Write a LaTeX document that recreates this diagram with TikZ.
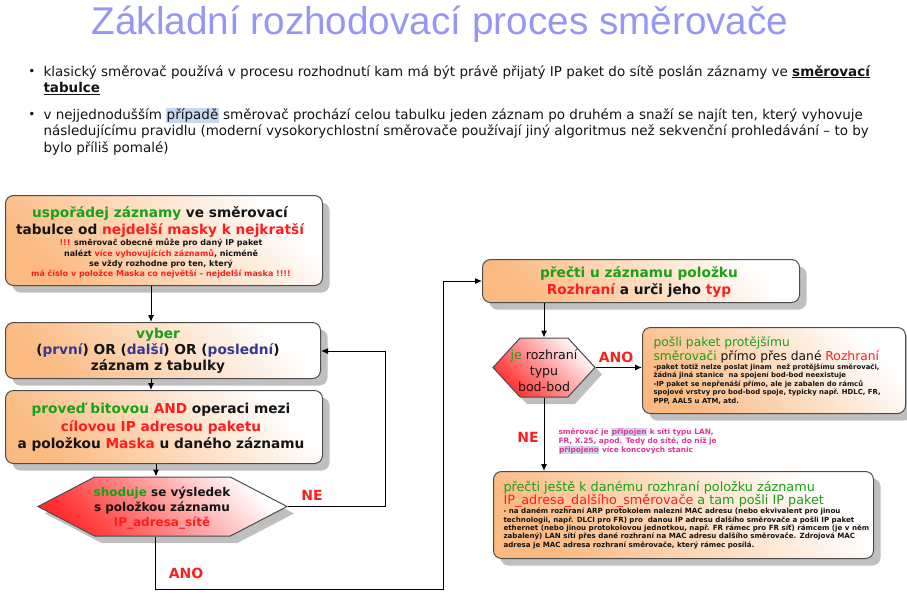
\documentclass[tikz,border=0pt]{standalone}
\usepackage{fontspec}
\setmainfont{DejaVu Sans}
\newfontfamily\arialf{Liberation Sans}
\usetikzlibrary{arrows.meta,shapes.symbols,shadows}
\definecolor{zgreen}{RGB}{25,160,25}
\definecolor{zred}{RGB}{255,30,30}
\definecolor{zblue}{RGB}{55,55,150}
\definecolor{ztitle}{RGB}{150,150,245}
\definecolor{zpink}{RGB}{230,50,150}
\definecolor{zpeach}{RGB}{251,186,130}
\definecolor{zhexred}{RGB}{255,45,45}
\definecolor{zhl}{RGB}{200,215,242}
\definecolor{zink}{RGB}{20,20,20}
\newcommand\gr[1]{\textcolor{zgreen}{#1}}
\newcommand\rd[1]{\textcolor{zred}{#1}}
\newcommand\bl[1]{\textcolor{zblue}{#1}}
\newcommand\hlb[1]{{\setlength{\fboxsep}{0.6pt}\colorbox{zhl}{#1}}}

\begin{document}
\begin{tikzpicture}[x=1pt, y=-1pt, >={Latex[length=7pt,width=6pt]}, line width=1pt,
  every node/.style={text=zink},
  boxshadow/.style={drop shadow={shadow xshift=7pt, shadow yshift=-7pt, fill=black!25, opacity=1}},
  flowbox/.style={draw=black!70, rounded corners=8pt, left color=zpeach, right color=white, shading angle=135, boxshadow, anchor=north west, inner sep=0pt},
  hexbox/.style={shape=signal, signal to=west and east, draw=black!70, left color=zhexred, right color=white, shading angle=135, boxshadow, inner sep=0pt},
  bigbold/.style={font=\bfseries\fontsize{13.7}{17}\selectfont, align=center, inner sep=0pt},
  smallbold/.style={font=\bfseries\fontsize{8}{10.3}\selectfont, align=center, inner sep=0pt},
  plainbig/.style={font=\fontsize{12.3}{14}\selectfont, align=left, anchor=west, inner sep=0pt},
  tinybold/.style={font=\bfseries\fontsize{6.9}{8.5}\selectfont, align=left, anchor=west, inner sep=0pt},
  answer/.style={font=\bfseries\fontsize{14}{16}\selectfont, text=zred, inner sep=0pt},
  bullettext/.style={font=\fontsize{13.5}{16.5}\selectfont, align=left, anchor=west, inner sep=0pt}]
	\useasboundingbox (0,0) rectangle (907,595);
	\node[font=\arialf\fontsize{38.7}{42}\selectfont, text=ztitle] (title) at (440,24) {Základní rozhodovací proces směrovače};
	\node[font=\fontsize{12}{14}\selectfont] (dot1) at (32,72) {•};
	\node[font=\fontsize{12}{14}\selectfont] (dot2) at (32,115) {•};
	\node[bullettext] (bul1) at (43,80) {klasický směrovač používá v procesu rozhodnutí kam má být právě přijatý IP paket do sítě poslán záznamy ve \textbf{\underline{směrovací}}\\\textbf{\underline{tabulce}}};
	\node[bullettext] (bul2) at (43,131.5) {v nejjednodušším {\setlength{\fboxsep}{0.5pt}\colorbox{zhl}{případě}} směrovač prochází celou tabulku jeden záznam po druhém a snaží se najít ten, který vyhovuje\\následujícímu pravidlu (moderní vysokorychlostní směrovače používají jiný algoritmus než sekvenční prohledávání – to by\\bylo příliš pomalé)};

	\node[flowbox, minimum width=317, minimum height=90] (sort) at (5,195) {};
	\node[bigbold] (sortt) at (160,221.5) {\gr{uspořádej záznamy} ve směrovací\\tabulce od \rd{nejdelší masky k nejkratší}};
	\node[smallbold] (sorts) at (161,258.5) {\rd{!!!} směrovač obecně může pro daný IP paket\\nalézt \rd{více vyhovujících záznamů}, nicméně\\se vždy rozhodne pro ten, který\\\rd{má číslo v položce Maska co největší – nejdelší maska !!!!}};

	\node[flowbox, minimum width=315, minimum height=56] (pick) at (5,322) {};
	\node[bigbold, font=\bfseries\fontsize{13.7}{16}\selectfont] (pickt) at (158,351) {\gr{vyber}\\(\bl{první}) OR (\bl{další}) OR (\bl{poslední})\\záznam z tabulky};

	\node[flowbox, minimum width=317, minimum height=73] (and) at (5,390) {};
	\node[bigbold, font=\bfseries\fontsize{13.7}{17.5}\selectfont] (andt) at (161,427.5) {\gr{proveď bitovou} \rd{AND} operaci mezi\\\rd{cílovou IP adresou paketu}\\a položkou \rd{Maska} u daného záznamu};

	\node[hexbox, minimum width=249, minimum height=59, signal pointer angle=55] (match) at (162.5,506.5) {};
	\node[bigbold, font=\bfseries\fontsize{12}{15}\selectfont] (matcht) at (162,508) {\gr{shoduje} se výsledek\\s položkou záznamu\\\rd{IP\_adresa\_sítě}};

	\node[flowbox, minimum width=317, minimum height=43] (iface) at (482,259) {};
	\node[bigbold, font=\bfseries\fontsize{13.7}{17}\selectfont] (ifacet) at (639,281.5) {\gr{přečti u záznamu položku}\\\rd{Rozhraní} a urči jeho \rd{typ}};

	\node[hexbox, minimum width=102, minimum height=59, signal pointer angle=95] (p2p) at (544,367.5) {};
	\node[font=\fontsize{12.6}{16}\selectfont, align=center, inner sep=0pt] (p2pt) at (544,371) {\gr{je} rozhraní\\typu\\bod-bod};

	\node[flowbox, minimum width=263, minimum height=86] (send) at (642,327) {};
	\node[plainbig] (sendt) at (653,350) {\gr{pošli paket protějšímu}\\\gr{směrovači} přímo přes dané \rd{Rozhraní}};
	\node[tinybold] (sends) at (653,384) {-paket totiž nelze poslat jinam\ \ než protějšímu směrovači,\\žádná jiná stanice\ \ na spojení bod-bod neexistuje\\-IP paket se nepřenáší přímo, ale je zabalen do rámců\\spojové vrstvy pro bod-bod spoje, typicky např. HDLC, FR,\\PPP, AAL5 u ATM, atd.};

	\node[flowbox, minimum width=380, minimum height=87] (next) at (493,471) {};
	\node[plainbig, font=\fontsize{12.8}{13.5}\selectfont] (nextt) at (503,494.5) {\gr{přečti ještě k danému rozhraní položku záznamu}\\\rd{IP\_adresa\_dalšího\_směrovače} \gr{a tam pošli IP paket}};
	\node[tinybold, font=\bfseries\fontsize{7.1}{8.3}\selectfont] (nexts) at (503,528.5) {- na daném rozhraní ARP protokolem nalezni MAC adresu (nebo ekvivalent pro jinou\\technologii, např. DLCI pro FR) pro\ \ danou IP adresu dalšího směrovače a pošli IP paket\\ethernet (nebo jinou protokolovou jednotkou, např. FR rámec pro FR síť) rámcem (je v něm\\zabalený) LAN sítí přes dané rozhraní na MAC adresu dalšího směrovače. Zdrojová MAC\\adresa je MAC adresa rozhraní směrovače, který rámec posílá.};

	\node[tinybold, font=\bfseries\fontsize{7.4}{9}\selectfont, text=zpink] (lan) at (558,441) {směrovač je \hlb{připojen} k síti typu LAN,\\FR, X.25, apod. Tedy do sítě, do níž je\\\hlb{připojeno} více koncových stanic};

	\coordinate (loop) at (385,351);
	\coordinate (jog) at (443,589);
	\draw[->] ([xshift=-13]sort.south) -- ([xshift=-13]sort.south |- pick.north);
	\draw[->] ([xshift=-12]pick.south) -- ([xshift=-12]pick.south |- and.north);
	\draw[->] ([xshift=-8]and.south) -- ([xshift=-8]and.south |- match.north);
	\draw[->] (match.east) -| (loop) -- (loop -| pick.east);
	\draw[->] ([xshift=-7]match.south) |- (jog) |- (iface.west);
	\draw[->] (iface.south -| p2p.north) -- (p2p.north);
	\draw[->] (p2p.east) -- (p2p.east -| send.west);
	\draw[->] (p2p.south) -- (p2p.south |- next.north);
	\node[answer] (ne1) at (312,495) {NE};
	\node[answer] (ano1) at (186,573) {ANO};
	\node[answer] (ano2) at (616,357) {ANO};
	\node[answer] (ne2) at (528,437) {NE};
\end{tikzpicture}
\end{document}
